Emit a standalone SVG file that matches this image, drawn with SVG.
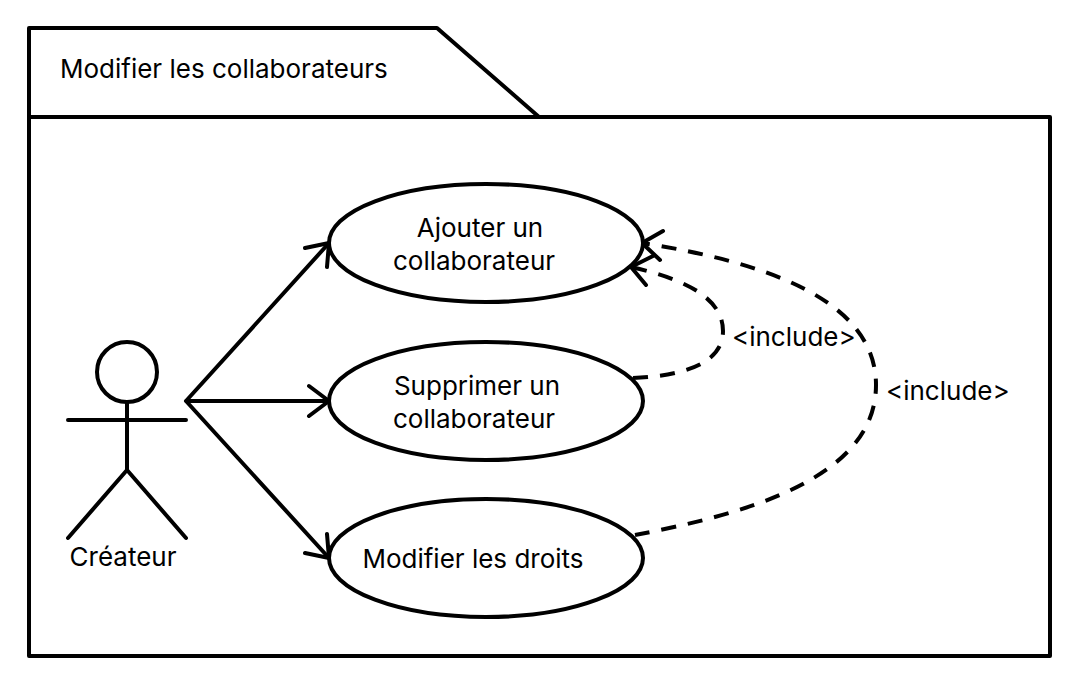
<svg xmlns="http://www.w3.org/2000/svg" width="1091" height="689" viewBox="0 0 1091 689">
<style>
.s{fill:none;stroke:#000;stroke-width:4;stroke-linecap:round;stroke-linejoin:round}
.d{fill:none;stroke:#000;stroke-width:4;stroke-dasharray:15 12}
.e{fill:#fff;stroke:#000;stroke-width:4}
text{font-family:Inter,"Liberation Sans",sans-serif;font-size:26px;fill:#000}
.m{text-anchor:middle}
</style>
<rect width="1091" height="689" fill="#fff"/>
<g id="package">
<path class="s" d="M29 117V28H437L539 117"/>
<rect class="s" x="29" y="117" width="1021" height="539"/>
<text x="60" y="77.5">Modifier les collaborateurs</text>
</g>
<g id="actor">
<circle class="s" cx="127" cy="372" r="30"/>
<path class="s" d="M127 402V470M68 420H186M127 470L68 538M127 470L186 538"/>
<text class="m" x="123" y="566">Créateur</text>
</g>
<g id="connectors">
<path class="s" d="M186 401L329 243M186 401H329M186 401L329 558"/>
<path class="s" d="M305 248L329 243L327 267M309 386L329 401L309 416M327 534L329 558L305 553"/>
<path class="d" d="M633 378C680 376 723 365 723 331C723 296 680 278 631 267"/>
<path class="s" d="M653 256L631 267L646 285"/>
<path class="d" d="M635 535C740 515 876 480 876 385C876 300 765 262 642 243"/>
<path class="s" d="M663 231L642 243L660 260"/>
</g>
<g id="uc1"><ellipse class="e" cx="486" cy="243" rx="157" ry="59"/><text class="m" x="480" y="237">Ajouter un</text><text class="m" x="474" y="270">collaborateur</text></g>
<g id="uc2"><ellipse class="e" cx="486" cy="401" rx="157" ry="59"/><text class="m" x="477" y="395">Supprimer un</text><text class="m" x="474" y="428">collaborateur</text></g>
<g id="uc3"><ellipse class="e" cx="486" cy="558" rx="157" ry="59"/><text class="m" x="473" y="568">Modifier les droits</text></g>
<g id="labels">
<text x="732" y="346">&lt;include&gt;</text>
<text x="886" y="400">&lt;include&gt;</text>
</g>
</svg>
